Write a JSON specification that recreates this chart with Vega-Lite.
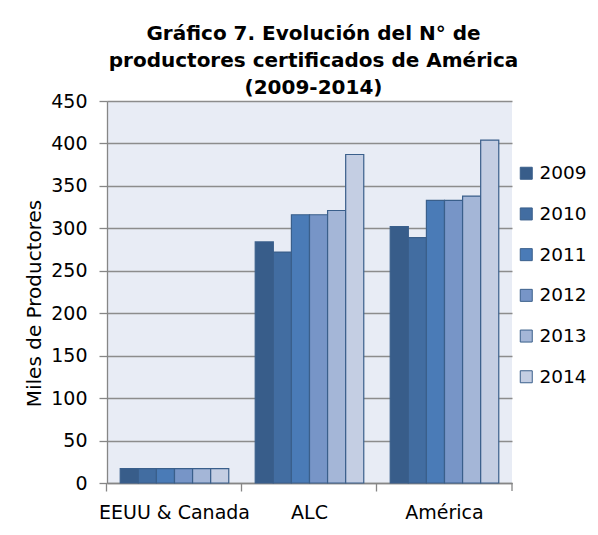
{
  "$schema": "https://vega.github.io/schema/vega-lite/v6.json",
  "autosize": "none",
  "padding": {"left": 107, "top": 101, "right": 86, "bottom": 52},
  "width": 405,
  "height": 382,
  "background": "white",
  "config": {
    "view": {"fill": "#E8ECF5", "stroke": null},
    "font": "DejaVu Sans"
  },
  "title": {
    "text": ["Gráfico 7. Evolución del N° de", "productores certificados de América", "(2009-2014)"],
    "font": "DejaVu Sans",
    "fontSize": 20,
    "fontWeight": "bold",
    "lineHeight": 27,
    "color": "#000000",
    "anchor": "middle",
    "dx": 4,
    "dy": 13,
    "offset": 7
  },
  "data": {
    "values": [
      {"region": "EEUU & Canada", "year": "2009", "value": 17},
      {"region": "EEUU & Canada", "year": "2010", "value": 17},
      {"region": "EEUU & Canada", "year": "2011", "value": 17},
      {"region": "EEUU & Canada", "year": "2012", "value": 17},
      {"region": "EEUU & Canada", "year": "2013", "value": 17},
      {"region": "EEUU & Canada", "year": "2014", "value": 17},
      {"region": "ALC", "year": "2009", "value": 284},
      {"region": "ALC", "year": "2010", "value": 272},
      {"region": "ALC", "year": "2011", "value": 316},
      {"region": "ALC", "year": "2012", "value": 316},
      {"region": "ALC", "year": "2013", "value": 321},
      {"region": "ALC", "year": "2014", "value": 387},
      {"region": "América", "year": "2009", "value": 302},
      {"region": "América", "year": "2010", "value": 289},
      {"region": "América", "year": "2011", "value": 333},
      {"region": "América", "year": "2012", "value": 333},
      {"region": "América", "year": "2013", "value": 338},
      {"region": "América", "year": "2014", "value": 404}
    ]
  },
  "layer": [
    {
      "mark": {"type": "bar", "stroke": "#3A5F8B", "strokeWidth": 1.2},
      "encoding": {
        "x": {
          "field": "region",
          "type": "nominal",
          "sort": null,
          "scale": {"domain": ["EEUU & Canada", "ALC", "América"], "paddingInner": 0.196, "paddingOuter": 0.098},
          "axis": {
            "title": null,
            "labelAngle": 0,
            "labelFont": "DejaVu Sans",
            "labelFontSize": 19,
            "labelColor": "#000000",
            "labelPadding": 12,
            "tickSize": 8,
            "tickColor": "#868686",
            "tickWidth": 1.3,
            "domainColor": "#868686",
            "domainWidth": 1.3,
            "bandPosition": -0.122,
            "grid": false
          }
        },
        "xOffset": {
          "field": "year",
          "type": "nominal",
          "scale": {"paddingInner": 0, "paddingOuter": 0}
        },
        "y": {
          "field": "value",
          "type": "quantitative",
          "scale": {"domain": [0, 450], "nice": false},
          "axis": {
            "title": "Miles de Productores",
            "titleFont": "DejaVu Sans",
            "titleFontSize": 20,
            "titleFontWeight": "normal",
            "titleColor": "#000000",
            "titleX": -67,
            "titleY": 202,
            "titleAlign": "center",
            "titleBaseline": "alphabetic",
            "titleAngle": -90,
            "values": [0, 50, 100, 150, 200, 250, 300, 350, 400, 450],
            "labelFont": "DejaVu Sans",
            "labelFontSize": 19,
            "labelColor": "#000000",
            "labelPadding": 12,
            "tickSize": 8,
            "tickColor": "#868686",
            "tickWidth": 1.3,
            "domainColor": "#868686",
            "domainWidth": 1.3,
            "gridColor": "#8C8C8C",
            "gridWidth": 1.3
          }
        },
        "fill": {
          "field": "year",
          "type": "nominal",
          "scale": {
            "domain": ["2009", "2010", "2011", "2012", "2013", "2014"],
            "range": ["#385D8A", "#426DA1", "#4A7BB7", "#7795C7", "#A4B6D7", "#C4CEE3"]
          },
          "legend": {
            "title": null,
            "orient": "none",
            "legendX": 410,
            "legendY": 63,
            "padding": 0,
            "symbolType": "square",
            "symbolSize": 144,
            "symbolStrokeColor": "#3A5F8B",
            "symbolStrokeWidth": 1,
            "labelFont": "DejaVu Sans",
            "labelFontSize": 18.5,
            "labelColor": "#000000",
            "labelOffset": 4,
            "rowPadding": 21.7
          }
        }
      }
    },
    {
      "data": {"values": [{"region": "América"}]},
      "mark": {"type": "rule", "color": "#868686", "strokeWidth": 1.3},
      "encoding": {
        "x": {"field": "region", "type": "nominal", "sort": null, "bandPosition": 1.122},
        "y": {"datum": 0},
        "y2": {"datum": -9.5}
      }
    }
  ]
}
